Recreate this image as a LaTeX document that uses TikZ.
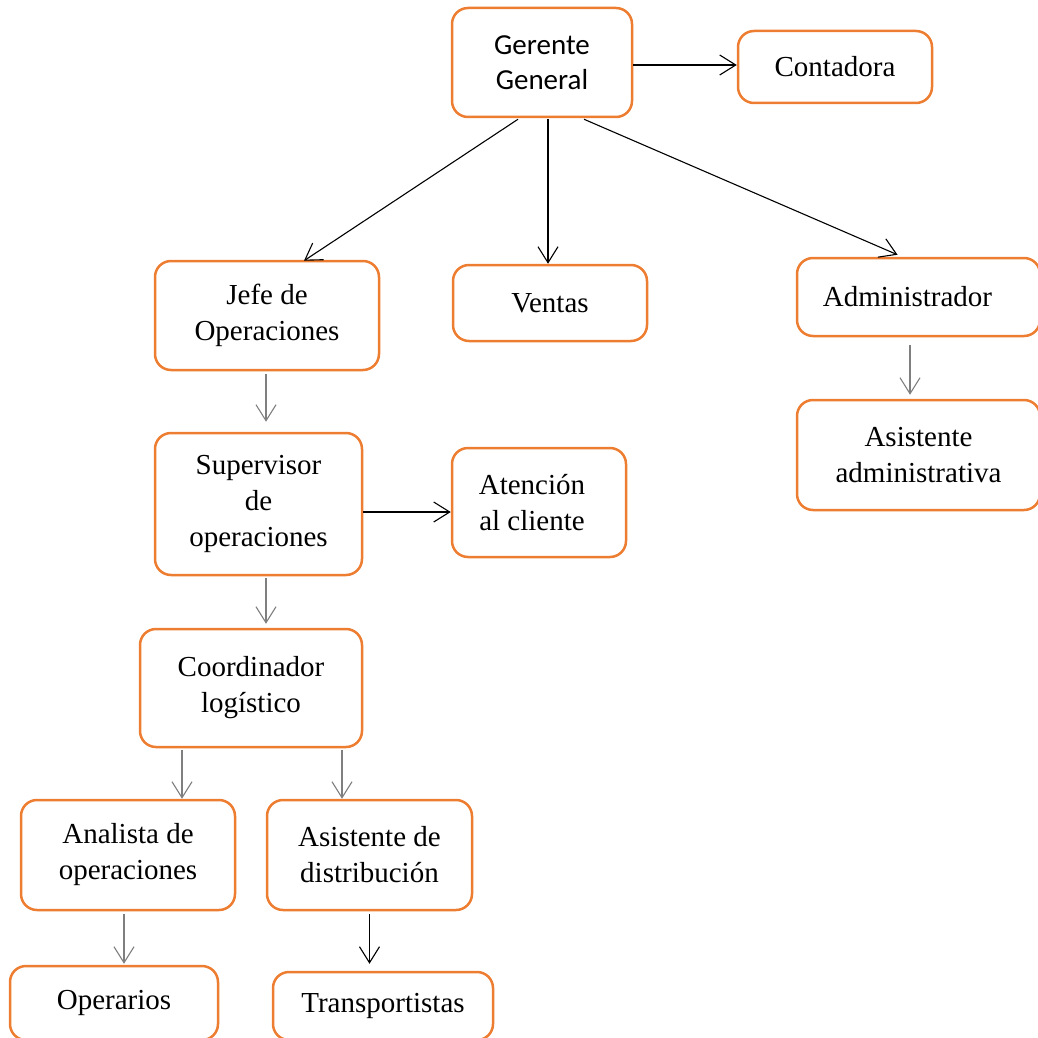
\documentclass[tikz,border=0pt]{standalone}
\usepackage{fontspec}
\setmainfont{Liberation Serif}
\newfontfamily\calibrilike{Carlito}
\usetikzlibrary{arrows.meta}
\definecolor{boxorange}{HTML}{ED7D31}
\definecolor{linkgray}{HTML}{7F7F7F}
\tikzset{
  orgbox/.style={draw=boxorange, line width=2.5pt, rounded corners=16pt,
    align=center, inner sep=0pt, font=\fontsize{29}{36}\selectfont},
  link/.style={line width=1.1pt, -{Straight Barb[length=16pt,width=20pt,line width=1.1pt]}},
  linkblack/.style={link, draw=black},
  linkgrey/.style={link, draw=linkgray}
}
\begin{document}
\begin{tikzpicture}[x=1pt,y=-1pt]
\useasboundingbox (0,0) rectangle (1037,1038);

% boxes
\node[orgbox, minimum width=180pt, minimum height=109pt,
      font=\calibrilike\fontsize{29}{35}\selectfont]
  (gg) at (542,62.5) {Gerente\\General};
\node[orgbox, minimum width=194pt, minimum height=72pt] (cont) at (835,67) {Contadora};
\node[orgbox, minimum width=224pt, minimum height=109pt] (jefe) at (267,315.5) {Jefe de\\Operaciones};
\node[orgbox, minimum width=194pt, minimum height=76pt] (ventas) at (550,303) {Ventas};
\node[orgbox, minimum width=243pt, minimum height=78pt] (admin) at (918.5,297) {\hspace*{-22pt}Administrador};
\node[orgbox, minimum width=243pt, minimum height=110pt] (asadm) at (918.5,455) {Asistente\\administrativa};
\node[orgbox, minimum width=207pt, minimum height=142pt] (sup) at (258.5,504) {Supervisor\\de\\operaciones};
\node[orgbox, minimum width=174pt, minimum height=109pt] (aten) at (539,502.5) {\hspace*{-14pt}Atención\\\hspace*{-14pt}al cliente};
\node[orgbox, minimum width=222pt, minimum height=118pt] (coord) at (251,688) {Coordinador\\logístico};
\node[orgbox, minimum width=214pt, minimum height=110pt] (anal) at (128,855) {Analista de\\operaciones};
\node[orgbox, minimum width=205pt, minimum height=110pt] (asdis) at (369.5,855) {Asistente de\\distribución};
\node[orgbox, minimum width=208pt, minimum height=74pt] (oper) at (114,1003) {Operarios};
\node[orgbox, minimum width=220pt, minimum height=68pt] (trans) at (383,1006) {Transportistas};

% connectors from the general manager
\draw[linkblack] ([yshift=-2.5pt]gg.east) -- ([yshift=-2.5pt]gg.east -| cont.west);
\draw[linkblack] ([xshift=-24pt,yshift=-1pt]gg.south) -- ([xshift=37pt,yshift=-1pt]jefe.north);
\draw[linkblack] ([xshift=6pt,yshift=-1pt]gg.south) -- ([xshift=6pt]gg.south |- ventas.north);
\draw[linkblack] ([xshift=42pt,yshift=-1pt]gg.south) -- ([xshift=-21pt,yshift=2pt]admin.north);

% operations chain
\draw[linkgrey] ([xshift=-1pt,yshift=-3pt]jefe.south)
  -- ([xshift=-1pt,yshift=10pt]jefe.south |- sup.north);
\draw[linkblack] ([yshift=-8pt]sup.east) -- ([yshift=-8pt]sup.east -| aten.west);
\draw[linkgrey] ([xshift=7.5pt,yshift=-2pt]sup.south)
  -- ([xshift=7.5pt,yshift=4pt]sup.south |- coord.north);
\draw[linkgrey] ([xshift=-69pt,yshift=-2pt]coord.south)
  -- ([xshift=-69pt]coord.south |- anal.north);
\draw[linkgrey] ([xshift=91pt,yshift=-2pt]coord.south)
  -- ([xshift=91pt]coord.south |- asdis.north);
\draw[linkgrey] ([xshift=-4pt,yshift=-3pt]anal.south)
  -- ([xshift=-4pt,yshift=1pt]anal.south |- oper.north);
\draw[linkblack] ([yshift=-3pt]asdis.south)
  -- ([yshift=7pt]asdis.south |- trans.north);

% administration
\draw[linkgrey] ([xshift=-8.5pt,yshift=-8pt]admin.south)
  -- ([xshift=-8.5pt,yshift=4pt]admin.south |- asadm.north);
\end{tikzpicture}
\end{document}
